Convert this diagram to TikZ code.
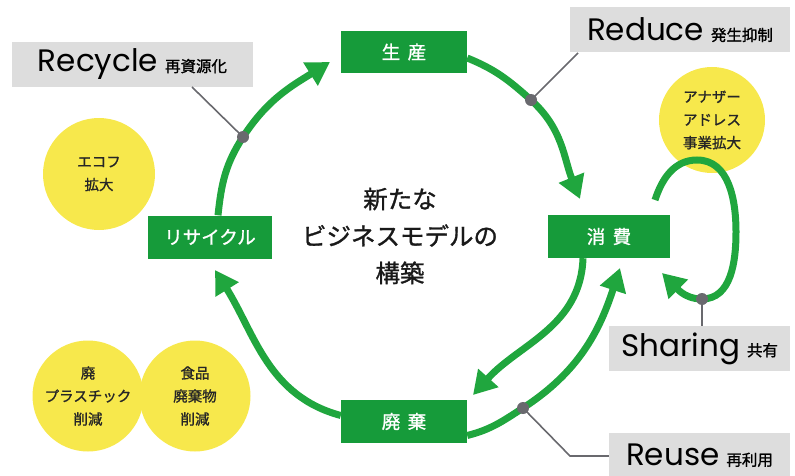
\documentclass[tikz,border=0pt]{standalone}
\usepackage{fontspec}
\setmainfont{Noto Sans CJK JP}
\newfontfamily\jp{Noto Sans CJK JP}
\newfontfamily\jpm[FakeBold=1.2]{Noto Sans CJK JP}
\newfontfamily\jpb[FakeBold=2]{Noto Sans CJK JP}
\newfontfamily\en{Poppins}
\usetikzlibrary{arrows.meta,calc}
\definecolor{grn}{RGB}{22,155,58}
\definecolor{arrg}{RGB}{32,166,62}
\definecolor{yel}{RGB}{247,232,76}
\definecolor{lgray}{RGB}{221,221,221}
\definecolor{dgray}{RGB}{105,105,110}
\tikzset{
  stage/.style={fill=grn, text=white, minimum width=124pt, minimum height=43pt, inner sep=0pt,
    font=\jpm\fontsize{18.5}{20}\selectfont},
  tag/.style={fill=lgray, minimum height=45pt, inner sep=0pt},
  bubble/.style={circle, fill=yel, inner sep=0pt, align=center, text=black!85,
    font=\jpm\fontsize{14.5}{23}\selectfont},
  flow/.style={draw=arrg, line width=7pt, -{Triangle[length=23pt,width=26pt]}},
  dotm/.style={circle, fill=dgray, minimum size=12pt, inner sep=0pt},
  leader/.style={draw=dgray, line width=1.6pt},
}
\newcommand{\entag}[2]{{\en\fontsize{31}{33}\selectfont #1}\hspace{7pt}{\jpm\fontsize{15.5}{17}\selectfont #2}}
\begin{document}
\begin{tikzpicture}[x=1pt,y=1pt]
\useasboundingbox (0,0) rectangle (795,475);
% bubbles
\node[bubble, minimum size=112pt] (ecof) at (99,301) {エコフ\\拡大};
\node[bubble, minimum size=106pt] (another) at (712,355) {アナザー\\アドレス\\事業拡大};
\node[bubble, minimum size=111pt] (plastic) at (88,79) {廃\\プラスチック\\削減};
\node[bubble, minimum size=111pt] (food) at (195,79) {食品\\廃棄物\\削減};
% stage boxes
\node[stage, minimum width=126pt, minimum height=42pt] (sei) at (404,423) {生\hspace{0.4em}産};
\node[stage, minimum width=122pt] (sho) at (609,238.5) {消\hspace{0.4em}費};
\node[stage, minimum width=126pt] (hai) at (404,53.5) {廃\hspace{0.4em}棄};
\node[stage] (rec) at (210,238) {リサイクル};
% center text
\node[align=center, font=\jpm\fontsize{24.5}{37}\selectfont, text=black!90] (core) at (400,239) {新たな\\ビジネスモデルの\\構築};
% labels
\node[tag, minimum width=241pt] (recl) at (132.5,410.5) {\entag{Recycle}{再資源化}};
\node[tag, minimum width=220pt] (redl) at (680,445) {\entag{Reduce}{発生抑制}};
\node[tag, minimum width=181pt] (shal) at (699.5,126.5) {\entag{Sharing}{共有}};
\node[tag, minimum width=181pt] (reul) at (699.5,19.5) {\entag{Reuse}{再利用}};
% coordinates
\coordinate (t1) at (330,413);
\coordinate (t2) at (580,276);
\coordinate (t3) at (473,80);
\coordinate (t4) at (620,207);
\coordinate (t5) at (215,205);
\coordinate (t6) at (662,202);
\coordinate (p1) at (243,338);
\coordinate (p2) at (531,375);
\coordinate (p4) at (523,67);
\coordinate (p6) at (702,176);
\coordinate (ls) at (655,275);
\coordinate (q1) at (192,388);
\coordinate (q2) at (578,422);
\coordinate (q4) at (570,19);
% flows
\draw[flow] ($(rec.north)+(8,0)$) to[out=84,in=237] (p1) to[out=57,in=212] (t1);
\draw[flow] ($(sei.east)+(0,-6)$) to[out=-22,in=138] (p2) to[out=-42,in=112] (t2);
\draw[flow] ($(sho.south)+(-26,0)$) to[out=-92,in=48] (t3);
\draw[flow] ($(hai.east)+(0,-14)$) to[out=14,in=213] (p4) to[out=33,in=252] (t4);
\draw[flow] ($(hai.west)+(0,6)$) to[out=165,in=302] (t5);
\draw[flow] (ls) to[out=72,in=180] (697,315) to[out=0,in=90] (736,243) to[out=-90,in=0] (p6) to[out=180,in=-45] (t6);
% leaders
\draw[leader] (q1) -- (p1);
\draw[leader] (q2) -- (p2);
\draw[leader] (p6) -- (shal.north -| p6);
\draw[leader] (p4) -- (q4) -- (reul.west |- q4);
% dots
\node[dotm] (d1) at (p1) {};
\node[dotm] (d2) at (p2) {};
\node[dotm] (d4) at (p4) {};
\node[dotm] (d6) at (p6) {};
\end{tikzpicture}
\end{document}
